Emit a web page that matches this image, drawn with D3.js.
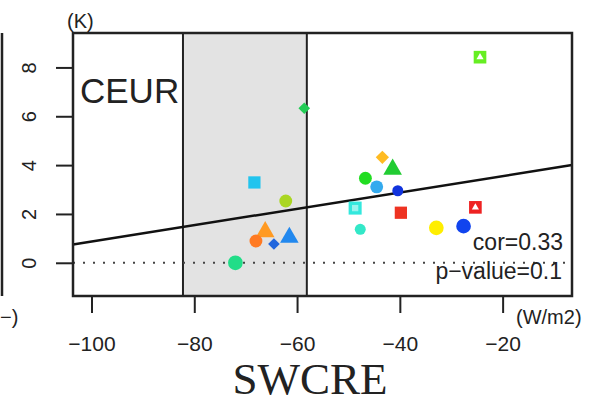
<!DOCTYPE html>
<html>
<head>
<meta charset="utf-8">
<script src="https://cdn.jsdelivr.net/npm/d3@7"></script>
<style>
  html, body { margin: 0; padding: 0; background: #fff; }
  svg { display: block; }
  text { font-family: "Liberation Sans", Arial, Helvetica, sans-serif; fill: #222; }
</style>
</head>
<body>
<svg id="chart" width="592" height="404"></svg>
<script>
// SWCRE (W/m2) against warming (K) for CEUR, one point per model
const swcre = [-58.6, -24.4, -68.3, -62.2, -66.2, -68.0, -64.5, -61.5, -72.0, -48.7, -47.7,
               -46.7, -44.5, -43.4, -41.4, -40.4, -39.8, -32.9, -27.6, -25.3];
const warming = [6.33, 8.42, 3.29, 2.53, 1.27, 0.89, 0.77, 1.04, 0.00, 2.24, 1.37,
                 3.46, 3.11, 4.32, 3.83, 2.95, 2.05, 1.43, 1.50, 2.27];
const markerShape = ["diamondS", "squareTri", "square", "circle", "triangle", "circle", "diamondS", "triangle", "circleL", "squareSq", "circleS",
                     "circle", "circle", "diamond", "triangle", "circleS", "square", "circleL", "circleL", "squareTri"];
const markerColor = ["#22cc55", "#66ee22", "#22c4ee", "#aad622", "#ff9a22", "#ff7a22", "#2266dd", "#2288ee", "#22dd88", "#33e8dd", "#33e8c8",
                     "#22dd22", "#33aaee", "#ffbb22", "#22cc33", "#1133dd", "#ee3322", "#ffee00", "#1144ee", "#ee2222"];

const xTicks = [-100, -80, -60, -40, -20];
const yTicks = [0, 2, 4, 6, 8];
const xDomain = [-103.6, -6.5];
const yDomain = [-1.36, 9.41];
const shadedRange = [-82.2, -58.1];
const fitIntercept = 4.22, fitSlope = 0.0335;
const regionName = "CEUR";
const corText = "cor=0.33";
const pText = "p\u2212value=0.1";

const svg = d3.select("#chart");
const L = 73, R = 572, T = 33, B = 296;
const x = d3.scaleLinear().domain(xDomain).range([L, R]);
const y = d3.scaleLinear().domain(yDomain).range([B, T]);

// neighbouring panel edge and the tail of its unit label
svg.append("line").attr("x1", 2).attr("x2", 2).attr("y1", T).attr("y2", B)
  .attr("stroke", "#222").attr("stroke-width", 2.5);
svg.append("text").attr("x", 0).attr("y", 324)
  .style("font-size", "20px").text("\u2212)");

// shaded band
svg.append("rect").attr("x", x(shadedRange[0])).attr("y", T)
  .attr("width", x(shadedRange[1]) - x(shadedRange[0])).attr("height", B - T)
  .attr("fill", "#e3e3e3");
shadedRange.forEach(v => {
  svg.append("line").attr("x1", x(v)).attr("x2", x(v)).attr("y1", T).attr("y2", B)
    .attr("stroke", "#222").attr("stroke-width", 2);
});

// zero line
svg.append("line").attr("x1", L).attr("x2", R).attr("y1", y(0)).attr("y2", y(0))
  .attr("stroke", "#444").attr("stroke-width", 2).attr("stroke-dasharray", "2 8");

// regression line
svg.append("line")
  .attr("x1", x(xDomain[0])).attr("y1", y(fitIntercept + fitSlope * xDomain[0]))
  .attr("x2", x(xDomain[1])).attr("y2", y(fitIntercept + fitSlope * xDomain[1]))
  .attr("stroke", "#111").attr("stroke-width", 2.5);

// points (diamonds are squares turned by 45 degrees)
const symbolFor = {
  circle: [d3.symbolCircle, 130, 0], circleS: [d3.symbolCircle, 95, 0], circleL: [d3.symbolCircle, 170, 0],
  square: [d3.symbolSquare, 150, 0], squareTri: [d3.symbolSquare, 160, 0], squareSq: [d3.symbolSquare, 170, 0],
  triangle: [d3.symbolTriangle, 150, 0], diamond: [d3.symbolSquare, 88, 45], diamondS: [d3.symbolSquare, 68, 45]
};
const pts = svg.append("g").selectAll("g").data(swcre.map((v, i) => i)).join("g")
  .attr("transform", i => `translate(${x(swcre[i])},${y(warming[i])})`);
pts.append("path")
  .attr("d", i => d3.symbol(symbolFor[markerShape[i]][0], symbolFor[markerShape[i]][1])())
  .attr("transform", i => `rotate(${symbolFor[markerShape[i]][2]})`)
  .attr("fill", i => markerColor[i]);
pts.filter(i => markerShape[i] === "squareTri").append("path")
  .attr("d", d3.symbol(d3.symbolTriangle, 22)()).attr("fill", "#fff");
pts.filter(i => markerShape[i] === "squareSq").append("path")
  .attr("d", d3.symbol(d3.symbolSquare, 40)()).attr("fill", "#fff").attr("opacity", 0.5);

// texts in the panel
svg.append("text").attr("x", 80).attr("y", 103).style("font-size", "35px").text(regionName);
svg.append("text").attr("x", 563).attr("y", 250).attr("text-anchor", "end")
  .style("font-size", "23px").text(corText);
svg.append("text").attr("x", 562).attr("y", 279).attr("text-anchor", "end")
  .style("font-size", "23px").text(pText);

// box
svg.append("rect").attr("x", L).attr("y", T).attr("width", R - L).attr("height", B - T)
  .attr("fill", "none").attr("stroke", "#222").attr("stroke-width", 2.5);

// axes
const xAxis = svg.append("g").attr("transform", `translate(0,${B + 1})`)
  .call(d3.axisBottom(x).tickValues(xTicks).tickSize(16).tickPadding(23));
xAxis.select(".domain").remove();
xAxis.selectAll("line").attr("stroke", "#222").attr("stroke-width", 2);
xAxis.selectAll("text").style("font-size", "21px").attr("fill", "#222");

const yAxis = svg.append("g").attr("transform", `translate(${L - 1},0)`)
  .call(d3.axisLeft(y).tickValues(yTicks).tickSize(16));
yAxis.select(".domain").remove();
yAxis.selectAll("line").attr("stroke", "#222").attr("stroke-width", 2);
yAxis.selectAll("text").style("font-size", "20px").attr("fill", "#222")
  .attr("transform", "rotate(-90)").attr("x", 0).attr("y", -36).attr("dy", 0)
  .attr("text-anchor", "middle");

// units and axis title
svg.append("text").attr("x", 67).attr("y", 28).style("font-size", "20px").text("(K)");
svg.append("text").attr("x", 516).attr("y", 324).style("font-size", "20px").text("(W/m2)");
svg.append("text").attr("x", 310).attr("y", 394).attr("text-anchor", "middle")
  .style("font-family", "'Liberation Serif', 'Times New Roman', serif").style("font-size", "45px")
  .text("SWCRE");
</script>
</body>
</html>
